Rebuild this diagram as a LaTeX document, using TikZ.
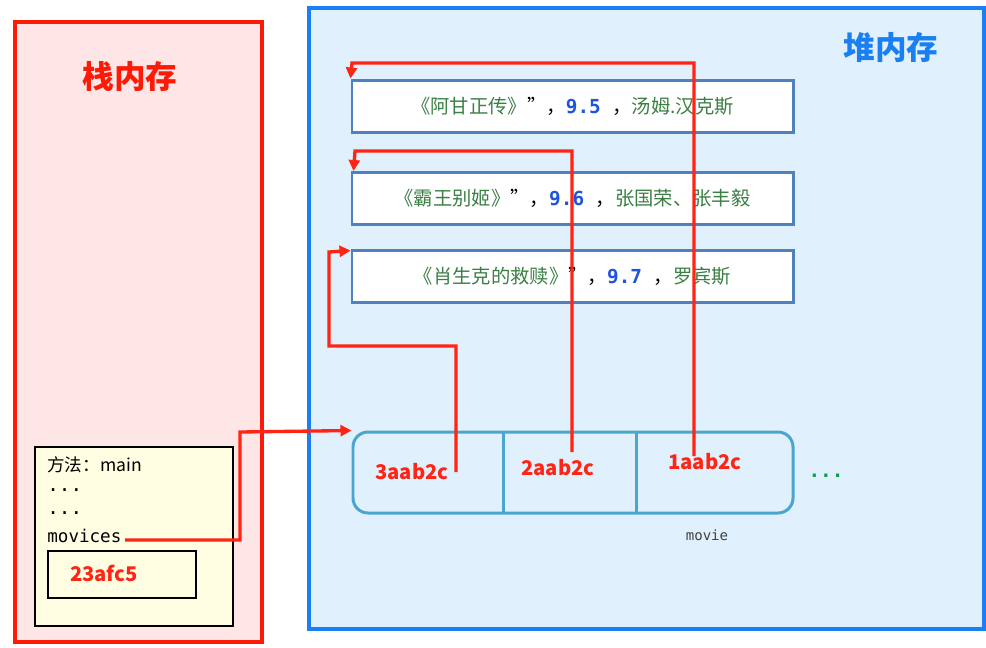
\documentclass[tikz,border=0pt]{standalone}
\usepackage{fontspec}
\setmainfont{Noto Sans CJK SC}
\setmonofont{DejaVu Sans Mono}
\usepackage{xcolor}
\usetikzlibrary{arrows.meta,positioning,calc}
\definecolor{stackred}{HTML}{FF1A08}
\definecolor{stackfill}{HTML}{FFE6E6}
\definecolor{heapblue}{HTML}{1A80F2}
\definecolor{heapfill}{HTML}{E1F0FD}
\definecolor{moviebd}{HTML}{4F81BD}
\definecolor{arraybd}{HTML}{4AA5CF}
\definecolor{methodfill}{HTML}{FFFDE2}
\definecolor{titlegreen}{HTML}{3B7F45}
\definecolor{numblue}{HTML}{1F55DD}
\definecolor{ptrred}{HTML}{FF2414}
\definecolor{dotgreen}{HTML}{10A050}
\newcommand{\moviescore}[1]{{\ttfamily\bfseries\color{numblue}#1}}

\begin{document}
\begin{tikzpicture}[x=0.2mm,y=-0.2mm,
  moviebox/.style={draw=moviebd,line width=1.7pt,fill=white,minimum width=88.2mm,minimum height=10.4mm,font=\fontsize{11}{13}\selectfont},
  addr/.style={text=ptrred,font=\fontsize{11.5}{13}\selectfont\bfseries},
  ptr/.style={draw=ptrred,line width=1.9pt,-{Triangle[length=2.2mm,width=2.2mm]}},
  codeline/.style={anchor=west,inner sep=0pt,font=\fontsize{10}{12}\selectfont}]
\useasboundingbox (0,0) rectangle (986,647);
% stack and heap
\draw[stackred,line width=2.3pt,fill=stackfill] (15,22) rectangle (262,642);
\draw[heapblue,line width=2.3pt,fill=heapfill] (309,8) rectangle (984,629);
\node (stacktitle) at (130,76) [text=stackred,font=\fontsize{18}{20}\selectfont\bfseries] {栈内存};
\node (heaptitle) at (891,47) [text=heapblue,font=\fontsize{18}{20}\selectfont\bfseries] {堆内存};
% movie objects
\node (m1) at (572.5,106) [moviebox] {{\color{titlegreen}《阿甘正传》}”，\moviescore{9.5}{\ttfamily\ }，{\color{titlegreen}汤姆.汉克斯}};
\node (m2) at (572.5,198.5) [moviebox] {{\color{titlegreen}《霸王别姬》}”，\moviescore{9.6}{\ttfamily\ }，{\color{titlegreen}张国荣、张丰毅}};
\node (m3) at (572.5,276) [moviebox] {{\color{titlegreen}《肖生克的救赎》}”，\moviescore{9.7}{\ttfamily\ }，{\color{titlegreen}罗宾斯}};
% array
\node (arr) at (573,472.5) [draw=arraybd,line width=1.7pt,rounded corners=3mm,minimum width=88mm,minimum height=16.2mm] {};
\draw[arraybd,line width=1.7pt] (503,433) -- (503,512);
\draw[arraybd,line width=1.7pt] (636,433) -- (636,512);
\node (c3) at (412,472) [addr] {3aab2c};
\node (c2) at (558,468) [addr] {2aab2c};
\node (c1) at (705,462) [addr] {1aab2c};
\node (more) at (826,476) [text=dotgreen,font=\fontsize{11}{13}\selectfont\ttfamily\bfseries] {...};
\node (arrname) at (707,535) [text=black!75,font=\fontsize{8}{10}\selectfont\ttfamily] {movie};
% method frame
\node (meth) at (134,536.5) [draw=black,line width=1.1pt,fill=methodfill,minimum width=39.6mm,minimum height=35.8mm] {};
\node (l1) at (47,465) [codeline] {方法：main};
\node (l2) at (47,490) [codeline,font=\fontsize{11}{12}\selectfont\ttfamily] {...};
\node (l3) at (47,513) [codeline,font=\fontsize{11}{12}\selectfont\ttfamily] {...};
\node (mv) at (47,536) [codeline,font=\fontsize{10}{12}\selectfont\ttfamily] {movices};
\node (val) at (122,574.5) [draw=black,line width=1.1pt,minimum width=29.6mm,minimum height=9.4mm] {};
\node (valtext) at (104,573) [addr] {23afc5};
% references
\coordinate (p0) at (125,540);
\coordinate (p3) at (456,472);
\coordinate (p2) at (572,452);
\coordinate (p1) at (694,456);
\draw[ptr] (p0) -- (240,540) -- (240,432) -- (arr.north west);
\draw[ptr] (p3) -- (456,346) -- (329,346) -- (329,252) -- ($(m3.north west)+(0,2)$);
\draw[ptr] (p2) -- (572,151) -- (355,151) -- ($(m2.north west)+(3,0)$);
\draw[ptr] (p1) -- (694,63) -- (352,63) -- (m1.north west);
\end{tikzpicture}
\end{document}
